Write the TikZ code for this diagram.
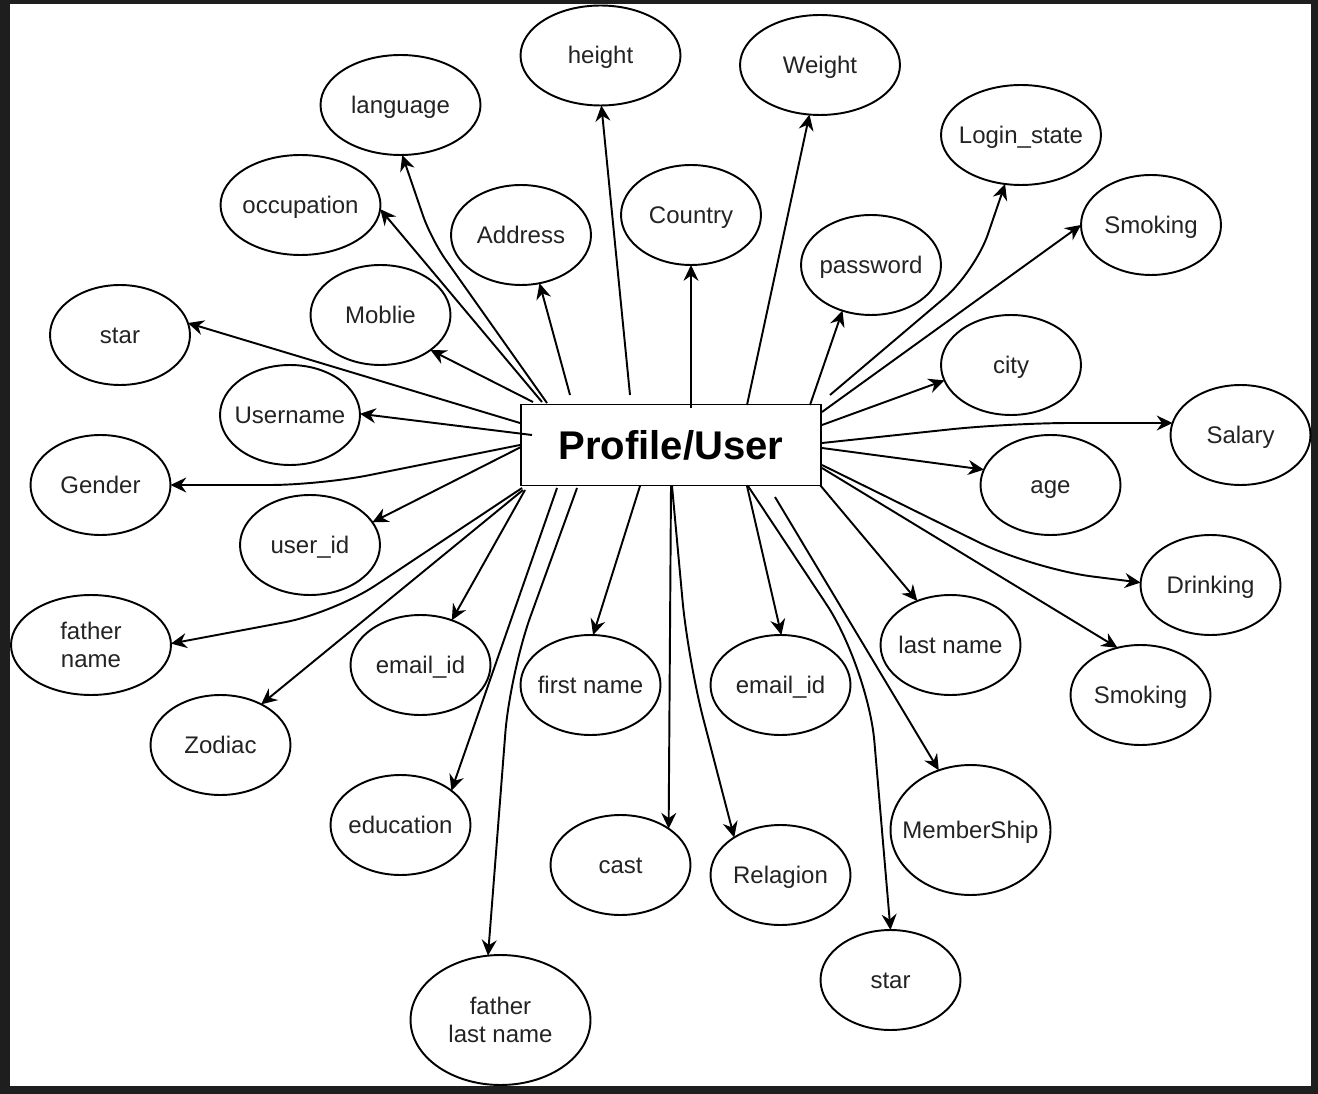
\documentclass[tikz,border=0pt]{standalone}
\usepackage{fontspec}
\setmainfont{Liberation Sans}
\usetikzlibrary{arrows.meta,calc,shapes.geometric}
\definecolor{bgdark}{RGB}{30,30,30}
\definecolor{labelgray}{RGB}{35,35,35}
\newcommand\lbl[1]{\makebox[0pt]{\smash{\raisebox{-4.7pt}{#1}}}}
\begin{document}
\begin{tikzpicture}[x=0.02cm,y=-0.02cm,
  attr/.style={ellipse,draw=black,line width=1.1pt,minimum width=2.8cm,minimum height=2cm,
    inner sep=0pt,outer sep=0pt,align=center,text=labelgray,font=\fontsize{13.66}{16}\selectfont},
  wide/.style={minimum width=3.2cm},
  entity/.style={draw=black,line width=1.1pt,fill=white,minimum width=6cm,minimum height=1.62cm,
    inner sep=0pt,outer sep=0pt,font=\bfseries\fontsize{22.8}{26}\selectfont},
  conn/.style={line width=1.1pt,-{Stealth[length=9pt,width=8.5pt,inset=3pt]}},
  ]
\useasboundingbox (0,0) rectangle (1318,1094);
\fill[bgdark] (0,0) rectangle (1318,1094);
\fill[white] (10,4) rectangle (1311,1086);

\node[entity] (user) at (671,445) {Profile/User};

\node[attr,wide] (height) at (600.5,55.5) {\lbl{height}};
\node[attr,wide] (weight) at (820,65) {\lbl{Weight}};
\node[attr,wide] (language) at (400.5,105) {\lbl{language}};
\node[attr,wide] (occupation) at (300.5,205) {\lbl{occupation}};
\node[attr] (address) at (521,235) {\lbl{Address}};
\node[attr] (country) at (691,215) {\lbl{Country}};
\node[attr] (mobile) at (380.5,315) {\lbl{Moblie}};
\node[attr] (starL) at (120,335) {\lbl{star}};
\node[attr] (username) at (290,415) {\lbl{Username}};
\node[attr] (gender) at (100.5,485) {\lbl{Gender}};
\node[attr] (userid) at (310,545) {\lbl{user\_id}};
\node[attr,wide] (fathername) at (91,645) {father\\name};
\node[attr] (zodiac) at (220.5,745) {\lbl{Zodiac}};
\node[attr] (emailL) at (420.5,665) {\lbl{email\_id}};
\node[attr] (education) at (400.5,825) {\lbl{education}};
\node[attr] (firstname) at (590.5,685) {\lbl{first name}};
\node[attr,minimum width=3.6cm,minimum height=2.6cm] (fatherlast) at (500.5,1020) {father\\last name};
\node[attr] (cast) at (620.5,865) {\lbl{cast}};
\node[attr] (religion) at (780.5,875) {\lbl{Relagion}};
\node[attr] (emailR) at (780.5,685) {\lbl{email\_id}};
\node[attr] (starB) at (890.5,980) {\lbl{star}};
\node[attr,wide,minimum height=2.6cm] (membership) at (970.5,830) {\lbl{MemberShip}};
\node[attr] (lastname) at (950.5,645) {\lbl{last name}};
\node[attr] (smoking2) at (1140.5,695) {\lbl{Smoking}};
\node[attr] (drinking) at (1210.5,585) {\lbl{Drinking}};
\node[attr] (age) at (1050.5,485) {\lbl{age}};
\node[attr] (salary) at (1240.5,435) {\lbl{Salary}};
\node[attr] (city) at (1011,365) {\lbl{city}};
\node[attr] (smoking1) at (1151,225) {\lbl{Smoking}};
\node[attr,wide] (login) at (1021,135) {\lbl{Login\_state}};
\node[attr] (password) at (871,265) {\lbl{password}};

% connectors (offsets in px from the entity centre; positive y = down)
\draw[conn] ($(user.center)+(-41,-50)$) -- (height.-89);
\draw[conn] ($(user.center)+(76,-40)$) -- (weight.-102);
\draw[conn,rounded corners=0.5cm] ($(user.center)+(-124,-42)$) -- (431,239) -- (language.-88);
\draw[conn] ($(user.center)+(-129,-43)$) -- (occupation.-3);
\draw[conn] ($(user.center)+(-101,-50)$) -- (address.-69);
\draw[conn] ($(user.center)+(20,-37)$) -- (country.-90);
\draw[conn] ($(user.center)+(-138,-43)$) -- (mobile.-35);
\draw[conn] ($(user.center)+(-151,-22)$) -- (starL.10);
\draw[conn] ($(user.center)+(-139,-10)$) -- (username.1);
\draw[conn,rounded corners=1cm] ($(user.center)+(-151,0)$) -- (320,485) -- (gender.0);
\draw[conn] ($(user.center)+(-150,2)$) -- (userid.20);
\draw[conn,rounded corners=1cm] ($(user.center)+(-149,43)$) -- (334,613) -- (fathername.1);
\draw[conn] ($(user.center)+(-148,45)$) -- (zodiac.45);
\draw[conn] ($(user.center)+(-146,45)$) -- (emailL.55);
\draw[conn] ($(user.center)+(-114,43)$) -- (education.34);
\draw[conn,rounded corners=1.2cm] ($(user.center)+(-94,43)$) -- (510,673) -- (fatherlast.101);
\draw[conn] ($(user.center)+(-31,41)$) -- (firstname.87);
\draw[conn] ($(user.center)+(0,41)$) -- (cast.37);
\draw[conn,rounded corners=1.2cm] ($(user.center)+(1,41)$) -- (688,660) -- (religion.141);
\draw[conn] ($(user.center)+(76,41)$) -- (emailR.89);
\draw[conn,rounded corners=1.5cm] ($(user.center)+(77,41)$) -- (868,667) -- (starB.90);
\draw[conn] ($(user.center)+(104,52)$) -- (membership.118);
\draw[conn] ($(user.center)+(149,40)$) -- (lastname.127);
\draw[conn] ($(user.center)+(151,23)$) -- (smoking2.116);
\draw[conn,rounded corners=1.2cm] ($(user.center)+(151,20)$) -- (1033,569) -- (drinking.178);
\draw[conn] ($(user.center)+(151,3)$) -- (age.167);
\draw[conn,rounded corners=1.2cm] ($(user.center)+(151,-2)$) -- (1010,423) -- (salary.170);
\draw[conn] ($(user.center)+(151,-20)$) -- (city.-167);
\draw[conn] ($(user.center)+(151,-33)$) -- (smoking1.180);
\draw[conn,rounded corners=0.8cm] ($(user.center)+(159,-50)$) -- (975,272) -- (login.-108);
\draw[conn] ($(user.center)+(139,-40)$) -- (password.-122);
\end{tikzpicture}
\end{document}
